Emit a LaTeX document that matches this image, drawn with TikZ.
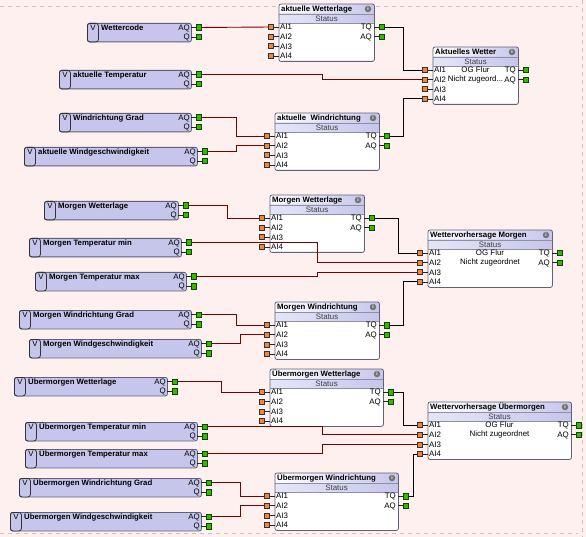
\documentclass[tikz,border=0pt]{standalone}
\usepackage{fontspec}
\setmainfont{Liberation Sans}
\usetikzlibrary{positioning}

\definecolor{bg}{HTML}{FDF0EE}
\definecolor{lav}{HTML}{C6C6EC}
\definecolor{lavlt}{HTML}{D4D4F4}
\definecolor{frame}{HTML}{60607A}
\definecolor{wirered}{HTML}{7A0000}
\definecolor{pingreen}{HTML}{3CB400}
\definecolor{pinorange}{HTML}{F4843C}
\definecolor{grid}{HTML}{CCC2C2}

% variable: name, left, top, right, text
\newcommand{\varbox}[5]{%
  \node[var, minimum width={#4pt-#2pt}] (#1) at (#2,#3) {};
  \node[vtag] (#1-v) at (#2,#3) {V};
  \node[title, anchor=base west] (#1-n) at ({#2+14},{#3+7.4}) {#5};
  \node[txt, anchor=base east] (#1-l1) at ({#4-1},{#3+7.4}) {AQ};
  \node[txt, anchor=base east] (#1-l2) at ({#4-1},{#3+16.9}) {Q};
  \draw[stub] (#4,{#3+4.5}) -- ++(5,0) node[opin] (#1-aq) {};
  \draw[stub] (#4,{#3+14}) -- ++(5,0) node[opin] (#1-q) {};
}

% block: name, left, top, right, title, text 1, text 2
\newcommand{\fblock}[7]{%
  \node[blk, minimum width={#4pt-#2pt}] (#1) at (#2,#3) {};
  \shade[left color=white, right color=lav] ({#2+0.5},{#3+0.5}) rectangle ({#4-0.5},{#3+10});
  \shade[left color=lavlt!60, right color=lav] ({#2+0.5},{#3+10}) rectangle ({#4-0.5},{#3+19});
  \draw[sepline] (#2,{#3+10}) -- (#4,{#3+10}) (#2,{#3+19}) -- (#4,{#3+19});
  \draw[frame, line width=0.8pt, rounded corners=2pt] (#1.north west) rectangle (#1.south east);
  \node[title, anchor=base west] (#1-t) at ({#2+2},{#3+7.9}) {#5};
  \node[info] (#1-i) at ({#4-6},{#3+5}) {i};
  \node[txt, text=black!75] (#1-s) at ({(#2+#4)/2},{#3+14.5}) {Status};
  \foreach \k in {1,...,4}{
    \node[txt, anchor=base west] (#1-l\k) at ({#2+1},{#3+25.9+(\k-1)*9.65}) {AI\k};
    \draw[stub] (#2,{#3+23+(\k-1)*9.65}) -- ++(-5,0) node[ipin] (#1-ai\k) {};
  }
  \node[txt, anchor=base east] (#1-l5) at ({#4-2},{#3+25.9}) {TQ};
  \node[txt, anchor=base east] (#1-l6) at ({#4-2},{#3+35.55}) {AQ};
  \node[txt] (#1-c1) at ({(#2+#4)/2},{#3+23}) {#6};
  \node[txt] (#1-c2) at ({(#2+#4)/2},{#3+32.65}) {#7};
  \draw[stub] (#4,{#3+23}) -- ++(5,0) node[opin] (#1-tq) {};
  \draw[stub] (#4,{#3+32.65}) -- ++(5,0) node[opin] (#1-aqo) {};
}

\begin{document}
\begin{tikzpicture}[
  x=1pt, y=-1pt,
  txt/.style={inner sep=0, font=\fontsize{7.9}{9}\selectfont},
  title/.style={inner sep=0, font=\fontsize{7.8}{9}\selectfont\bfseries},
  var/.style={draw=frame, fill=lav, rounded corners=2pt, line width=0.8pt,
    anchor=north west, minimum height=18.5pt, inner sep=0},
  vtag/.style={draw=black!80, fill=lav, rounded corners=2.5pt, line width=0.8pt,
    anchor=north west, minimum width=11pt, text height=5.6pt, text depth=9.9pt,
    inner xsep=0, inner ysep=1.5pt, font=\fontsize{7.9}{9}\selectfont},
  blk/.style={fill=white, rounded corners=2pt, anchor=north west,
    minimum height=57pt, inner sep=0},
  sepline/.style={draw=frame!70, line width=0.6pt},
  info/.style={circle, fill=black!55, text=white, inner sep=0, minimum size=6.5pt,
    font=\fontsize{5}{5}\selectfont\bfseries},
  stub/.style={line width=0.8pt, black!85},
  opin/.style={rectangle, draw=green!30!black, fill=pingreen, line width=0.5pt,
    minimum width=5pt, minimum height=5.5pt, inner sep=0, anchor=west},
  ipin/.style={rectangle, draw=black!80, fill=pinorange, line width=0.6pt,
    minimum size=5pt, inner sep=0, anchor=east},
  wire/.style={draw=wirered, line width=0.9pt},
  link/.style={draw=black, line width=0.9pt},
  border/.style={draw=grid, line width=1pt, dash pattern=on 4pt off 4pt}
]
  \useasboundingbox[fill=bg] (0,0) rectangle (586,537);
  \draw[border] (0,7) -- (578,7);
  \draw[border] (0,533) -- (578,533);
  \draw[border] (582,0) -- (582,537);

  % values
  \varbox{wc}{87}{23}{191}{Wettercode}
  \varbox{at}{59}{70}{191}{aktuelle Temperatur}
  \varbox{wrg}{59}{113}{191}{Windrichtung Grad}
  \varbox{awg}{24}{147}{197}{aktuelle Windgeschwindigkeit}
  \varbox{mw}{44}{201}{178}{Morgen Wetterlage}
  \varbox{mtmin}{29}{238}{181}{Morgen Temperatur min}
  \varbox{mtmax}{35}{272}{186}{Morgen Temperatur max}
  \varbox{mwrg}{19}{310}{191}{Morgen Windrichtung Grad}
  \varbox{mwg}{29}{339}{201}{Morgen Windgeschwindigkeit}
  \varbox{uw}{14}{377}{167}{Übermorgen Wetterlage}
  \varbox{utmin}{25}{422}{197}{Übermorgen Temperatur min}
  \varbox{utmax}{25}{449}{197}{Übermorgen Temperatur max}
  \varbox{uwrg}{19}{478}{201}{Übermorgen Windrichtung Grad}
  \varbox{uwg}{10}{512}{201}{Übermorgen Windgeschwindigkeit}

  % blocks
  \fblock{awl}{279}{4}{374}{aktuelle Wetterlage}{}{}
  \fblock{aw}{433}{47}{518}{Aktuelles Wetter}{OG Flur}{Nicht zugeord...}
  \fblock{awr}{275}{113}{379}{aktuelle\ \ Windrichtung}{}{}
  \fblock{mwl}{270}{195}{364}{Morgen Wetterlage}{}{}
  \fblock{wvm}{428}{230}{552}{Wettervorhersage Morgen}{OG Flur}{Nicht zugeordnet}
  \fblock{mwr}{275}{302}{379}{Morgen Windrichtung}{}{}
  \fblock{uwl}{270}{369}{383}{Übermorgen Wetterlage}{}{}
  \fblock{wvu}{428}{402}{571}{Wettervorhersage Übermorgen}{OG Flur}{Nicht zugeordnet}
  \fblock{uwr}{275}{473}{398}{Übermorgen Windrichtung}{}{}

  % connections
  \draw[wire] (wc-aq) -- (awl-ai1);
  \draw[wire] (at-aq) -- (at-aq -| 322,0) |- (aw-ai2);
  \draw[wire] (wrg-aq) -- (wrg-aq -| 236,0) |- (awr-ai1);
  \draw[wire] (awg-aq) -- (awg-aq -| 236,0) |- (awr-ai2);
  \draw[link] (awl-tq) -- (awl-tq -| 403,0) |- (aw-ai1);
  \draw[link] (awr-tq) -- (awr-tq -| 403,0) |- (aw-ai4);

  \draw[wire] (mw-aq) -- (mw-aq -| 227,0) |- (mwl-ai1);
  \draw[wire] (mtmin-aq) -- (mtmin-aq -| 317,0) |- (wvm-ai2);
  \draw[wire] (mtmax-aq) -- (mtmax-aq -| 317,0) |- (wvm-ai3);
  \draw[wire] (mwrg-aq) -- (mwrg-aq -| 236,0) |- (mwr-ai1);
  \draw[wire] (mwg-aq) -- (mwg-aq -| 240,0) |- (mwr-ai2);
  \draw[link] (mwl-tq) -- (mwl-tq -| 398,0) |- (wvm-ai1);
  \draw[link] (mwr-tq) -- (mwr-tq -| 403,0) |- (wvm-ai4);

  \draw[wire] (uw-aq) -- (uw-aq -| 221,0) |- (uwl-ai1);
  \draw[wire] (utmin-aq) -- (utmin-aq -| 322,0) |- (wvu-ai2);
  \draw[wire] (utmax-aq) -- (utmax-aq -| 322,0) |- (wvu-ai3);
  \draw[wire] (uwrg-aq) -- (uwrg-aq -| 240,0) |- (uwr-ai1);
  \draw[wire] (uwg-aq) -- (uwg-aq -| 240,0) |- (uwr-ai2);
  \draw[link] (uwl-tq) -- (uwl-tq -| 403,0) |- (wvu-ai1);
  \draw[link] (uwr-tq) -- (uwr-tq -| 413,0) |- (wvu-ai4);
\end{tikzpicture}
\end{document}
